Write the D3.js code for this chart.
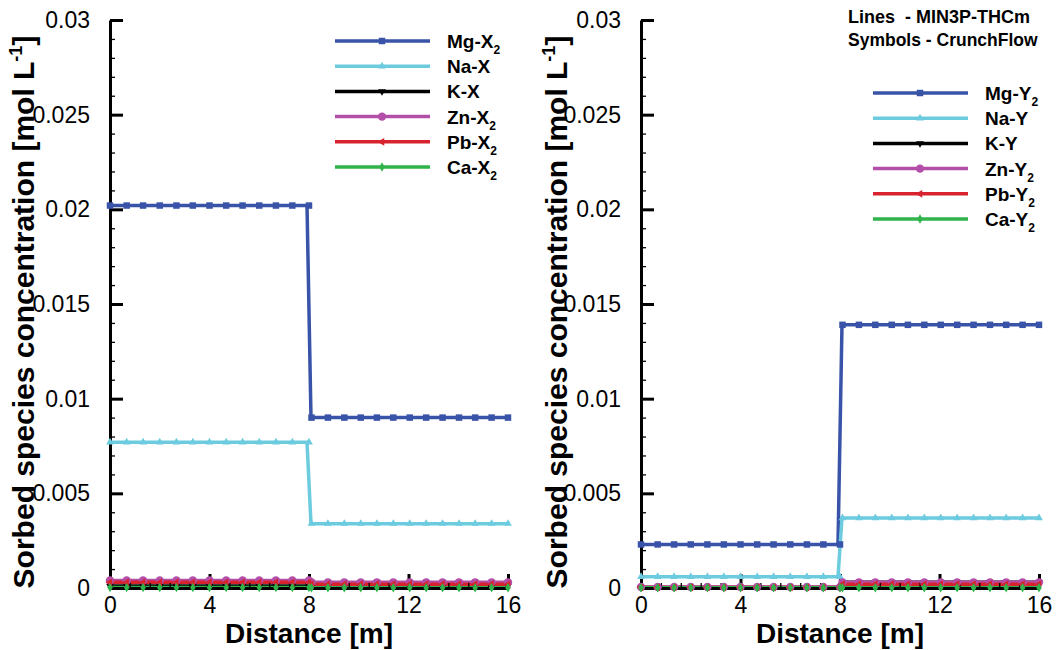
<!doctype html>
<html lang="en">
<head>
<meta charset="utf-8">
<title>Sorbed species concentration</title>
<script src="https://d3js.org/d3.v7.min.js"></script>
<style>
  body { margin: 0; background: #fff; }
  text { font-family: "Liberation Sans", Arial, sans-serif; fill: #000; }
</style>
</head>
<body>
<div id="chart"></div>
<script>
// MIN3P-THCm line nodes (the step at 8 m is spread over one cell)
const lineDistance = [0, 7.92, 8.08, 16];
// CrunchFlow symbol positions [m]
const symbolDistance = [0, 0.67, 1.33, 2, 2.67, 3.33, 4, 4.67, 5.33, 6, 6.67, 7.33, 8,
  8.1, 8.76, 9.42, 10.08, 10.73, 11.39, 12.05, 12.71, 13.37, 14.03, 14.68, 15.34, 16];

const speciesX = ["Mg-X", "Na-X", "K-X", "Zn-X", "Pb-X", "Ca-X"];
const speciesY = ["Mg-Y", "Na-Y", "K-Y", "Zn-Y", "Pb-Y", "Ca-Y"];
const subscripts = ["2", "", "", "2", "2", "2"];
const colors = ["#3953a8", "#6ccbdf", "#000000", "#b34fa8", "#d8232f", "#2fb34a"];
const shapes = ["square", "triUp", "triDown", "circle", "triLeft", "diamond"];

// concentrations [mol/L] for 0-8 m (zone 1) and 8-16 m (zone 2)
const xZone1 = [0.0202, 0.0077, 0.0001, 0.0004, 0.0003, 0.00002];
const xZone2 = [0.0090, 0.0034, 0.0001, 0.0003, 0.0002, 0.00001];
const yZone1 = [0.0023, 0.0006, 0.00002, 0.00005, 0.00003, 0.00001];
const yZone2 = [0.0139, 0.0037, 0.0003, 0.0003, 0.0002, 0.00001];

const xTicks = [0, 4, 8, 12, 16];
const yTicks = [0, 0.005, 0.01, 0.015, 0.02, 0.025, 0.03];
const yTickLabels = ["0", "0.005", "0.01", "0.015", "0.02", "0.025", "0.03"];

const W = 1057, H = 650;
const svg = d3.select("#chart").append("svg")
  .attr("width", W).attr("height", H);

function symbolPath(shape) {
  const sym = d3.symbol();
  if (shape == "square") return sym.type(d3.symbolSquare).size(42)();
  if (shape == "circle") return sym.type(d3.symbolCircle).size(55)();
  if (shape == "diamond") return sym.type(d3.symbolDiamond).size(26)();
  return sym.type(d3.symbolTriangle).size(26)();
}
function symbolRot(shape) {
  if (shape == "triDown") return 180;
  if (shape == "triLeft") return -90;
  return 0;
}

function drawPanel(opt) {
  const x = d3.scaleLinear().domain([0, 16]).range([opt.left, opt.right]);
  const y = d3.scaleLinear().domain([0, 0.03]).range([588, 20]);
  const g = svg.append("g");

  const line = d3.line()
    .x(d => x(d[0]))
    .y(d => y(d[1]));

  // lines (MIN3P-THCm)
  opt.names.forEach((n, i) => {
    const pts = lineDistance.map(d => [d, d < 8 ? opt.zone1[i] : opt.zone2[i]]);
    g.append("path")
      .attr("d", line(pts))
      .attr("fill", "none")
      .attr("stroke", colors[i])
      .attr("stroke-width", 3.5)
      .attr("stroke-linejoin", "miter");
  });

  // axes
  const ax = g.append("g").attr("transform", `translate(0,${y(0)})`)
    .call(d3.axisBottom(x).tickValues(xTicks).tickSize(-14).tickSizeOuter(0));
  ax.selectAll(".tick text").attr("dy", "0").attr("y", 25);
  g.append("g").attr("transform", `translate(0,${y(0)})`)
    .call(d3.axisBottom(x).tickValues(d3.range(0, 16.01, 0.8)).tickSize(-5).tickFormat(""))
    .call(s => s.select(".domain").remove());

  const ay = g.append("g").attr("transform", `translate(${x(0)},0)`)
    .call(d3.axisLeft(y).tickValues(yTicks).tickSize(-13).tickSizeOuter(0)
      .tickFormat((d, i) => yTickLabels[i]).tickPadding(20));
  g.append("g").attr("transform", `translate(${x(0)},0)`)
    .call(d3.axisLeft(y).tickValues(d3.range(0, 0.0301, 0.001)).tickSize(-5).tickFormat(""))
    .call(s => s.select(".domain").remove());

  g.selectAll(".domain").attr("stroke", "#000").attr("stroke-width", 3);
  g.selectAll(".tick line").attr("stroke", "#000").attr("stroke-width", 1.3);
  ax.selectAll(".tick line").attr("stroke-width", 3);
  ay.selectAll(".tick line").attr("stroke-width", 3);
  g.selectAll(".tick text").attr("font-family", "Liberation Sans, Arial, sans-serif")
    .attr("font-size", 23).attr("fill", "#000");

  // symbols (CrunchFlow)
  opt.names.forEach((n, i) => {
    g.append("g").selectAll("path")
      .data(symbolDistance)
      .join("path")
      .attr("d", symbolPath(shapes[i]))
      .attr("transform", d => `translate(${x(d)},${y(d <= 8 ? opt.zone1[i] : opt.zone2[i])}) rotate(${symbolRot(shapes[i])})`)
      .attr("fill", colors[i]);
  });

  // axis titles
  const yt = g.append("text")
    .attr("transform", `translate(${opt.titleX},312) rotate(-90)`)
    .attr("text-anchor", "middle")
    .style("font-size", "30px").style("font-weight", "bold");
  yt.append("tspan").text("Sorbed species concentration [mol L");
  yt.append("tspan").attr("dy", -12).style("font-size", "18px").text("-1");
  yt.append("tspan").attr("dy", 12).text("]");

  g.append("text")
    .attr("x", (x(0) + x(16)) / 2).attr("y", 643)
    .attr("text-anchor", "middle")
    .style("font-size", "28px").style("font-weight", "bold")
    .text("Distance [m]");

  // legend
  opt.names.forEach((n, i) => {
    const ly = opt.legY + i * 25.2;
    g.append("line")
      .attr("x1", opt.legX).attr("x2", opt.legX + 95)
      .attr("y1", ly).attr("y2", ly)
      .attr("stroke", colors[i]).attr("stroke-width", 3.5);
    g.append("path")
      .attr("d", symbolPath(shapes[i]))
      .attr("transform", `translate(${opt.legX + 47},${ly}) rotate(${symbolRot(shapes[i])})`)
      .attr("fill", colors[i]);
    const t = g.append("text")
      .attr("x", opt.legX + 112).attr("y", ly + 7)
      .style("font-size", "19px").style("font-weight", "bold");
    t.append("tspan").text(n);
    if (subscripts[i]) t.append("tspan").attr("dy", 6).style("font-size", "12px").text(subscripts[i]);
  });
}

drawPanel({left: 110, right: 508, names: speciesX, zone1: xZone1, zone2: xZone2,
  titleX: 34, legX: 335, legY: 41});
drawPanel({left: 641, right: 1039, names: speciesY, zone1: yZone1, zone2: yZone2,
  titleX: 567, legX: 873, legY: 93});

svg.append("text").attr("x", 848).attr("y", 23)
  .style("font-size", "18px").style("font-weight", "bold").style("white-space", "pre")
  .text("Lines  - MIN3P-THCm");
svg.append("text").attr("x", 848).attr("y", 46)
  .style("font-size", "17.5px").style("font-weight", "bold")
  .text("Symbols - CrunchFlow");
</script>
</body>
</html>
